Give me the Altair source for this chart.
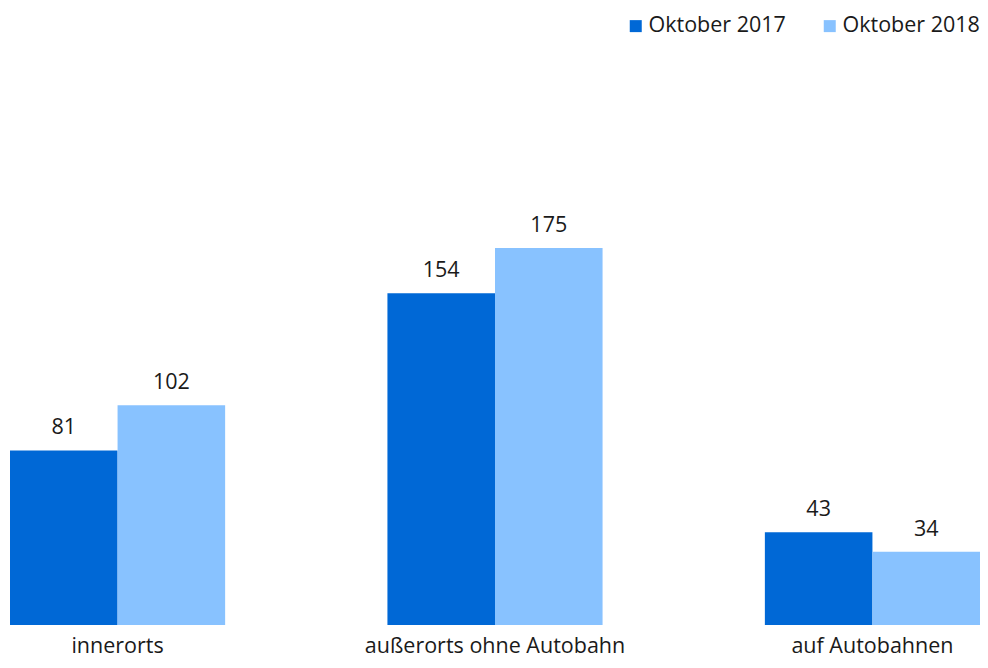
import altair as alt
import pandas as pd

categories = ["innerorts", "außerorts ohne Autobahn", "auf Autobahnen"]
series = ["Oktober 2017", "Oktober 2018"]
values_2017 = [81, 154, 43]
values_2018 = [102, 175, 34]
colors = ["#0068D6", "#88C2FF"]

rows = []
for c, a, b in zip(categories, values_2017, values_2018):
    rows.append({"Ort": c, "Serie": series[0], "Wert": a})
    rows.append({"Ort": c, "Serie": series[1], "Wert": b})
df = pd.DataFrame(rows)

FONT = "Open Sans"
FS = 21.5

x = alt.X("Ort:N", sort=categories, title=None,
          scale=alt.Scale(paddingInner=0.43, paddingOuter=0, round=False),
          axis=alt.Axis(labelAngle=0, domain=False, ticks=False, labelPadding=10,
                        labelFontSize=FS, labelColor="#1a1a1a", labelFont=FONT, labelLimit=0))
xo = alt.XOffset("Serie:N", sort=series, scale=alt.Scale(paddingInner=0, paddingOuter=0))
y = alt.Y("Wert:Q", scale=alt.Scale(domain=[0, 286.4]), axis=None)

bars = alt.Chart(df).mark_bar().encode(
    x=x, xOffset=xo, y=y,
    color=alt.Color("Serie:N", sort=series, scale=alt.Scale(domain=series, range=colors),
                    legend=alt.Legend(title=None, orient="none", direction="horizontal",
                                      legendX=615, legendY=7, symbolType="square",
                                      symbolSize=144, symbolStrokeWidth=0,
                                      labelFontSize=21.5, labelFont=FONT, labelColor="#1a1a1a",
                                      columnPadding=33, symbolOffset=0, labelOffset=2,
                                      labelLimit=0))
)

labels = alt.Chart(df).mark_text(baseline="alphabetic", dy=-16, fontSize=FS, font=FONT,
                                 color="#1a1a1a").encode(
    x=x, xOffset=xo, y=y, text="Wert:Q"
)

chart = (bars + labels).properties(
    width=970, height=617,
    autosize=alt.AutoSizeParams(type="none"),
    padding={"left": 2, "top": 0, "right": 0, "bottom": 34},
).configure_view(stroke=None)

chart.save("out.html", embed_options={"renderer": "svg", "actions": False})
